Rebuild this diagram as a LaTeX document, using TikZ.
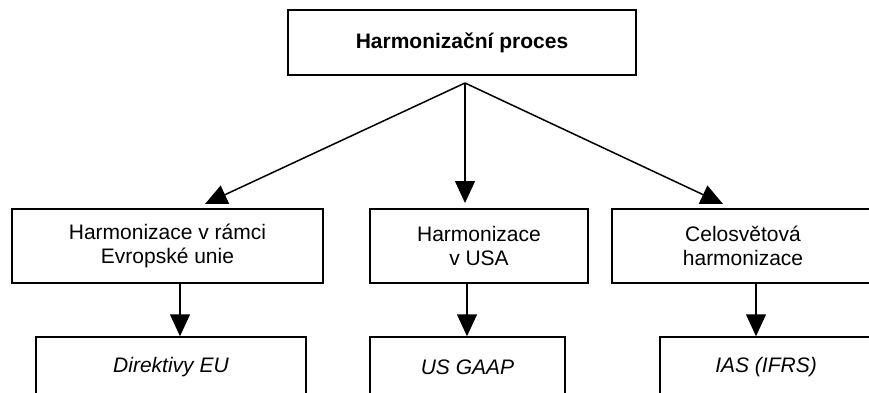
\documentclass[tikz,border=0pt]{standalone}
\usepackage{fontspec}
\setmainfont{Liberation Sans}
\usetikzlibrary{arrows.meta}
\begin{document}
\begin{tikzpicture}[x=1pt,y=-1pt,
  box/.style={draw=black,line width=1.5pt,rectangle,inner sep=0pt,align=center,
    font=\fontsize{21}{24}\selectfont},
  conn/.style={line width=1.5pt,-{Triangle[width=20pt,length=22pt]}}]
\useasboundingbox (0,0) rectangle (869,393);
\clip (0,0) rectangle (869,393);
\node[box,minimum width=348pt,minimum height=65pt,font=\fontsize{21}{24}\selectfont\bfseries] (top) at (462,42.5) {Harmonizační proces};
\node[box,minimum width=311pt,minimum height=74pt] (euh) at (167.5,246) {Harmonizace v rámci\\Evropské unie};
\node[box,minimum width=218pt,minimum height=74pt] (usah) at (479,246) {Harmonizace\\v USA};
\node[box,minimum width=262pt,minimum height=74pt] (wh) at (743,246) {Celosvětová\\harmonizace};
\node[box,minimum width=270pt,minimum height=60pt,font=\fontsize{21}{24}\selectfont\itshape] (eub) at (171,367) {Direktivy EU};
\node[box,minimum width=195pt,minimum height=60pt,font=\fontsize{21}{24}\selectfont\itshape] (usb) at (467.5,367) {US GAAP};
\node[box,minimum width=212pt,minimum height=60pt,font=\fontsize{21}{24}\selectfont\itshape] (wb) at (766,367) {IAS (IFRS)};
\coordinate (j) at (465,83);
\coordinate (t1) at (205,204);
\coordinate (t2) at (465,203);
\coordinate (t3) at (723,204);
\draw[conn] (j) -- (t1);
\draw[conn] (j) -- (t2);
\draw[conn] (j) -- (t3);
\draw[conn] (euh.south -| 180,0) -- (eub.north -| 180,0);
\draw[conn] (usah.south -| 467,0) -- (usb.north -| 467,0);
\draw[conn] (wh.south -| 756,0) -- (wb.north -| 756,0);
\end{tikzpicture}
\end{document}
